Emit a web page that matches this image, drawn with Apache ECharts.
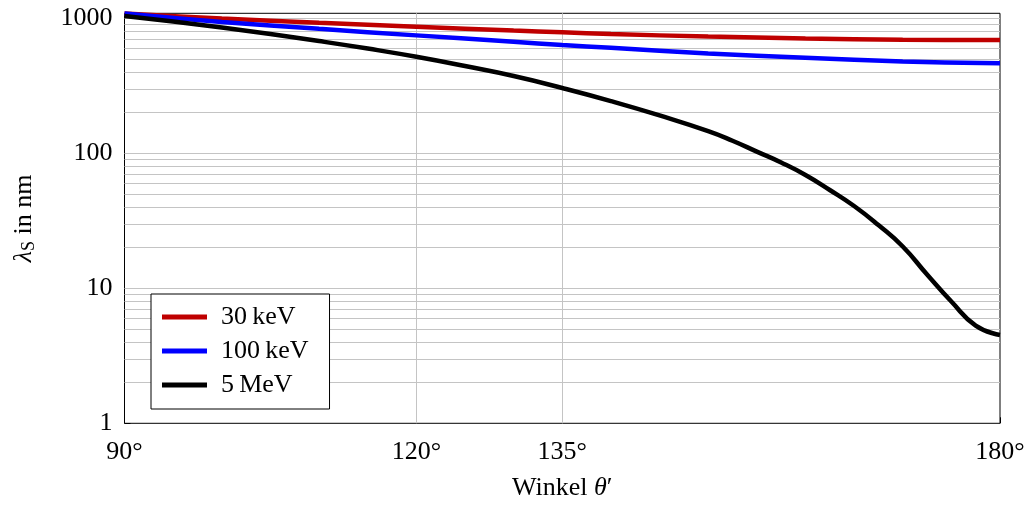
<!DOCTYPE html>
<html>
<head>
<meta charset="utf-8">
<script src="https://cdn.jsdelivr.net/npm/echarts@6/dist/echarts.min.js"></script>
<style>
  html, body { margin: 0; padding: 0; background: #fff; }
  #chart { width: 1030px; height: 508px; }
</style>
</head>
<body>
<div id="chart"></div>
<script>
// angles in degrees
const anglesKeV = [90, 100, 110, 120, 130, 135, 140, 150, 160, 170, 180];
const lambda30keV = [1085, 997, 926, 867, 812, 788, 765, 733, 709, 695, 691];
const lambda100keV = [1085, 939, 836, 748, 670, 634, 605, 548, 510, 479, 464];

const anglesMeV = [90, 95, 100, 105, 110, 115, 120, 125, 130, 135, 140, 145, 150, 152.5, 155, 157.5, 160,
  162.5, 165, 167.5, 170, 172.5, 175, 177.5, 180];
const lambda5MeV = [1040, 947, 855, 765, 679, 597, 519, 443, 374, 305, 244, 191, 146, 124, 103, 85.5, 69.1,
  53.5, 40.7, 29.4, 20.4, 12.65, 7.98, 5.30, 4.51];

const xTicks = [90, 120, 135, 180];
const yMajor = [1, 10, 100, 1000];
const yGrid = [2, 3, 4, 5, 6, 7, 8, 9, 10, 20, 30, 40, 50, 60, 70, 80, 90, 100,
  200, 300, 400, 500, 600, 700, 800, 900, 1000];

const font = '"Liberation Serif", "DejaVu Serif", serif';

function pairs(xs, ys) {
  return xs.map((x, i) => [x, ys[i]]);
}

const chart = echarts.init(document.getElementById('chart'));

const gridLines = yGrid.map(v => ({ yAxis: v }))
  .concat([{ xAxis: 120 }, { xAxis: 135 }]);

const option = {
  animation: false,
  grid: {
    left: 124.5,
    right: 30,
    top: 13.3,
    bottom: 84.7,
    show: true,
    borderColor: '#000',
    borderWidth: 1,
    backgroundColor: 'transparent',
  },
  xAxis: {
    type: 'value',
    min: 90,
    max: 180,
    name: '{t|Winkel }{it|θ}{t|′}',
    nameLocation: 'middle',
    nameGap: 52,
    nameTextStyle: {
      rich: {
        t: { fontFamily: font, fontSize: 26, color: '#000' },
        it: { fontFamily: font, fontSize: 26, fontStyle: 'italic', color: '#000' },
      },
    },
    axisLine: { show: false },
    axisTick: {
      inside: true,
      length: 6,
      customValues: xTicks,
      lineStyle: { color: '#000' },
    },
    axisLabel: {
      customValues: xTicks,
      formatter: v => v + '°',
      fontFamily: font,
      fontSize: 26,
      color: '#000',
      margin: 16,
    },
    splitLine: { show: false },
  },
  yAxis: {
    type: 'log',
    logBase: 10,
    min: 1,
    max: 1090,
    interval: 1,
    name: '{it|λ}{sub|S}{t| in nm}',
    nameLocation: 'middle',
    nameGap: 86,
    nameTextStyle: {
      rich: {
        t: { fontFamily: font, fontSize: 26, color: '#000' },
        it: { fontFamily: font, fontSize: 26, fontStyle: 'italic', color: '#000' },
        sub: { fontFamily: font, fontSize: 18, color: '#000', padding: [10, 0, 0, 0] },
      },
    },
    axisLine: { show: false },
    axisTick: {
      inside: true,
      length: 6,
      customValues: yMajor,
      lineStyle: { color: '#000' },
    },
    axisLabel: {
      customValues: yMajor,
      formatter: v => String(Math.round(v)),
      fontFamily: font,
      fontSize: 26,
      color: '#000',
      margin: 12,
    },
    splitLine: { show: false },
  },
  legend: {
    orient: 'vertical',
    left: 151,
    top: 294,
    padding: [10, 21, 11, 11],
    backgroundColor: '#fff',
    borderColor: '#000',
    borderWidth: 1,
    borderRadius: 0,
    itemWidth: 45,
    itemHeight: 5,
    itemGap: 8,
    icon: 'rect',
    textStyle: { fontFamily: font, fontSize: 26, color: '#000', padding: [0, 0, 0, 9] },
    data: ['30\u2009keV', '100\u2009keV', '5\u2009MeV'],
  },
  series: [
    {
      type: 'line',
      data: [],
      z: 1,
      silent: true,
      markLine: {
        z: 1,
        silent: true,
        symbol: 'none',
        label: { show: false },
        lineStyle: { color: '#c4c4c4', width: 1, type: 'solid' },
        data: gridLines,
      },
    },
    {
      name: '30\u2009keV',
      type: 'line',
      data: pairs(anglesKeV, lambda30keV),
      smooth: 0.3,
      showSymbol: false,
      color: '#bf0000',
      lineStyle: { width: 4.5 },
    },
    {
      name: '100\u2009keV',
      type: 'line',
      data: pairs(anglesKeV, lambda100keV),
      smooth: 0.3,
      showSymbol: false,
      color: '#0000ff',
      lineStyle: { width: 4.5 },
    },
    {
      name: '5\u2009MeV',
      type: 'line',
      data: pairs(anglesMeV, lambda5MeV),
      smooth: 0.5,
      showSymbol: false,
      color: '#000000',
      lineStyle: { width: 4.5 },
    },
  ],
};

chart.setOption(option);
</script>
</body>
</html>
